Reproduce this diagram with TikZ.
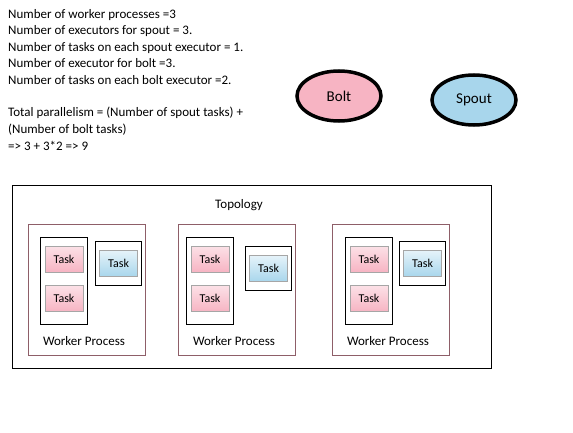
\documentclass[tikz,border=0pt]{standalone}
\usepackage{fontspec}
\setmainfont{Carlito}
\usetikzlibrary{shapes.geometric}
\definecolor{boltpink}{HTML}{F7B4C3}
\definecolor{spoutblue}{HTML}{A8D6EC}
\definecolor{wpline}{HTML}{8E5E68}
\tikzset{
  txt/.style={anchor=base west, inner sep=0pt, font=\fontsize{13}{15}\selectfont},
  legend/.style={ellipse, draw=black, line width=3.5pt, minimum width=84pt, minimum height=50pt, font=\fontsize{15}{17}\selectfont},
  exec/.style={draw=black, line width=1.2pt, anchor=north west, inner sep=0pt},
  boltask/.style={draw=gray!70, top color=boltpink!40!white, bottom color=boltpink, minimum width=38pt, minimum height=26pt, inner sep=0pt, font=\fontsize{12}{14}\selectfont},
  spoutask/.style={draw=gray!70, top color=spoutblue!30!white, bottom color=spoutblue, minimum width=38pt, minimum height=26pt, inner sep=0pt, font=\fontsize{12}{14}\selectfont}
}
\begin{document}
\begin{tikzpicture}[x=1pt, y=-1pt]
     \useasboundingbox (0,0) rectangle (573,433);
     % parameters
     \node[txt] (l1) at (8,18.5) {Number of worker processes =3};
     \node[txt] (l2) at (8,35) {Number of executors for spout = 3.};
     \node[txt] (l3) at (8,51.5) {Number of tasks on each spout executor = 1.};
     \node[txt] (l4) at (8,68) {Number of executor for bolt =3.};
     \node[txt] (l5) at (8,84.5) {Number of tasks on each bolt executor =2.};
     \node[txt] (l6) at (8,117) {Total parallelism = (Number of spout tasks) +};
     \node[txt] (l7) at (8,133.5) {(Number of bolt tasks)};
     \node[txt] (l8) at (8,150) {=> 3 + 3*2 => 9};
     % legend
     \node[legend, fill=boltpink] (bolt) at (339,96) {Bolt};
     \node[legend, fill=spoutblue] (spout) at (474,100) {Spout};
     % topology
     \draw[black, line width=0.9pt] (12,185) rectangle (491,368);
     \node[font=\fontsize{13}{15}\selectfont] (topology) at (239,205) {Topology};
     \foreach \x/\b/\d [count=\i] in {28/12/0, 178/8/5, 332/13/0} {
       \draw[wpline, line width=0.8pt] (\x,224) rectangle ++(117,131);
       \node[exec, minimum width=47pt, minimum height=87pt] (boltexec\i) at (\x+\b,237) {};
       \node[boltask] (btaska\i) at (\x+\b+24,259) {Task};
       \node[boltask] (btaskb\i) at (\x+\b+24,298.5) {Task};
       \node[exec, minimum width=46pt, minimum height=44pt] (spoutexec\i) at (\x+67,241+\d) {};
       \node[spoutask] (stask\i) at (spoutexec\i.center) {Task};
       \node[font=\fontsize{13}{15}\selectfont] (wp\i) at (\x+56,341) {Worker Process};
     }
\end{tikzpicture}
\end{document}
